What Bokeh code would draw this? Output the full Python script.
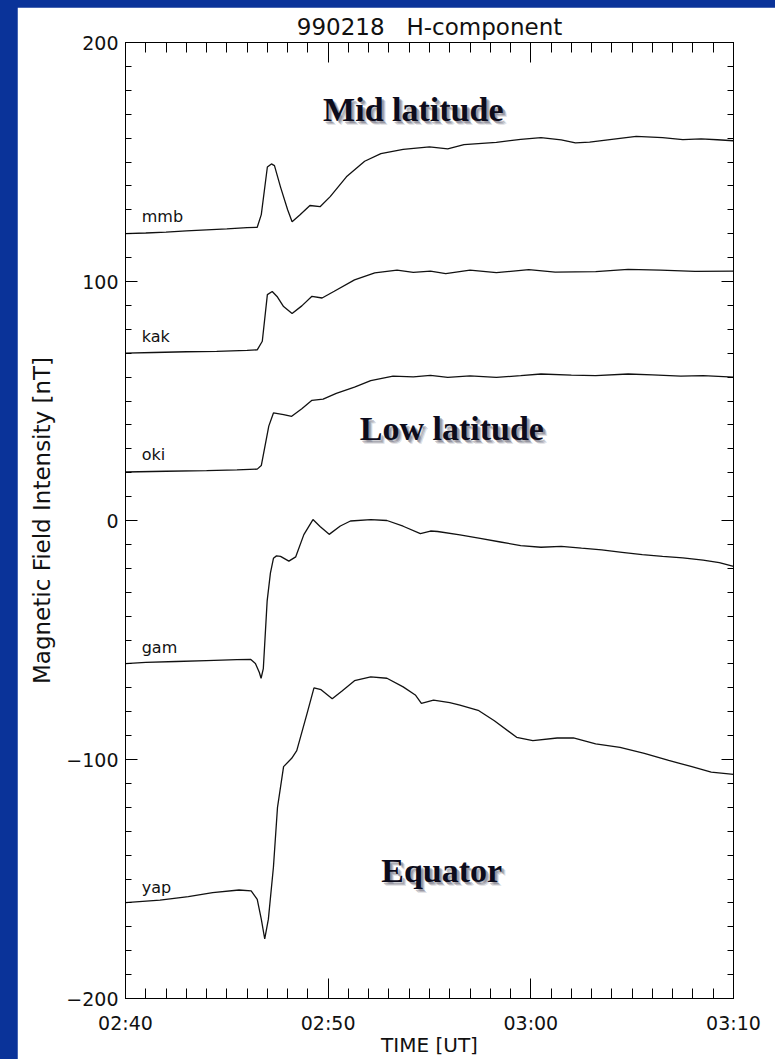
from bokeh.plotting import figure
from bokeh.models import Range1d, LinearAxis, FixedTicker, Title
from bokeh.core.properties import value
from bokeh.embed import file_html
from bokeh.resources import INLINE

# Time axis: minutes after 02:40 UT
x_tick_values = [0, 10, 20, 30]
x_tick_labels = ["02:40", "02:50", "03:00", "03:10"]
y_tick_values = [-200, -100, 0, 100, 200]
y_tick_labels = ["\u2212200", "\u2212100", "0", "100", "200"]

# H-component records (nT, offset per station), 1999-02-18
mmb_t = [0, 1, 2, 3, 4, 5, 6, 6.5, 6.7, 7.0, 7.2, 7.35, 7.65, 8.0, 8.22, 8.6, 9.1, 9.6,
         10.1, 10.9, 11.8, 12.6, 13.7, 15.0, 15.9, 16.7, 18.3, 19.5, 20.5, 21.5, 22.2,
         22.9, 24.0, 25.2, 26.5, 27.5, 28.4, 29.2, 30]
mmb_v = [120.0, 120.3, 120.7, 121.2, 121.6, 122.0, 122.5, 122.7, 128.0, 147.9, 149.2, 148.5,
         139.5, 130.0, 125.0, 127.8, 131.8, 131.3, 135.5, 143.8, 150.3, 153.5, 155.3, 156.3,
         155.5, 157.3, 158.2, 159.5, 160.2, 159.3, 158.0, 158.3, 159.5, 160.7, 160.2, 159.4,
         159.7, 159.3, 158.9]

kak_t = [0, 1.4, 3, 4.5, 6, 6.5, 6.75, 7.0, 7.24, 7.5, 7.8, 8.22, 8.7, 9.2, 9.7, 10.3, 11.3,
         12.3, 13.4, 14.2, 15.05, 15.8, 17.0, 18.3, 19.9, 21.2, 23.2, 24.8, 26.4, 28.1, 30]
kak_v = [70.0, 70.3, 70.6, 70.8, 71.2, 71.4, 75.0, 94.5, 95.8, 93.5, 89.5, 86.6, 89.8, 93.8,
         93.1, 95.9, 100.7, 103.6, 104.8, 103.8, 104.3, 103.3, 104.8, 103.7, 105.0, 103.9,
         104.1, 105.1, 104.8, 104.2, 104.3]

oki_t = [0, 2, 4, 5.5, 6.5, 6.7, 7.07, 7.3, 7.8, 8.2, 8.7, 9.2, 9.75, 10.4, 11.3, 12.1, 13.2,
         14.2, 15.05, 15.9, 17.0, 18.3, 19.5, 20.5, 22.0, 23.2, 24.8, 26.0, 27.4, 28.5, 30]
oki_v = [20.3, 20.6, 20.9, 21.2, 21.5, 23.0, 39.5, 45.0, 44.3, 43.6, 46.8, 50.3, 50.8, 53.2,
         55.8, 58.5, 60.4, 60.1, 60.7, 59.9, 60.5, 59.9, 60.6, 61.3, 60.8, 60.6, 61.3, 60.9,
         60.4, 60.6, 60.0]

gam_t = [0, 1, 2.5, 4, 5.5, 6.17, 6.41, 6.6, 6.69, 6.8, 6.99, 7.15, 7.3, 7.45, 7.65, 8.06,
         8.4, 8.8, 9.25, 9.6, 10.05, 10.6, 11.1, 12.1, 12.9, 13.7, 14.55, 15.05, 15.4, 16.5,
         17.5, 18.5, 19.5, 20.5, 21.5, 22.5, 23.5, 24.5, 25.5, 26.5, 27.5, 28.5, 29.3, 30]
gam_v = [-59.9, -59.4, -59.0, -58.6, -58.2, -58.1, -59.8, -63.5, -66.0, -62.0, -33.6, -22.0,
         -15.8, -14.8, -15.0, -17.0, -15.2, -5.9, 0.4, -2.5, -5.8, -2.3, -0.2, 0.4, 0.0, -2.4,
         -5.5, -4.4, -4.6, -6.0, -7.5, -9.0, -10.5, -11.2, -10.8, -11.6, -12.3, -13.3, -14.3,
         -15.0, -15.6, -16.6, -17.6, -19.2]

yap_t = [0, 1.7, 3.1, 4.3, 5.6, 6.2, 6.5, 6.7, 6.87, 7.05, 7.3, 7.5, 7.8, 8.2, 8.45, 8.95, 9.3,
         9.65, 10.2, 10.7, 11.3, 12.1, 12.9, 13.7, 14.3, 14.6, 15.2, 16.0, 16.5, 17.4, 18.2,
         19.3, 20.1, 21.3, 22.1, 23.2, 24.4, 25.6, 26.8, 27.9, 28.9, 30]
yap_v = [-159.9, -158.8, -157.4, -155.7, -154.6, -155.0, -158.5, -166.8, -175.1, -166.8,
         -145.0, -120.0, -103.0, -99.5, -96.3, -81.0, -70.0, -70.8, -74.6, -71.2, -67.0,
         -65.4, -66.0, -69.6, -73.0, -76.5, -75.2, -76.2, -77.2, -79.4, -83.8, -90.7, -92.1,
         -91.0, -91.0, -93.5, -94.9, -97.4, -100.4, -102.9, -105.3, -106.2]

stations = ["mmb", "kak", "oki", "gam", "yap"]
station_t = [mmb_t, kak_t, oki_t, gam_t, yap_t]
station_v = [mmb_v, kak_v, oki_v, gam_v, yap_v]
station_label_t = [0.8, 0.8, 0.8, 0.8, 0.8]
station_label_v = [127.0, 77.0, 27.5, -53.3, -153.7]

region_names = ["Mid latitude", "Low latitude", "Equator"]
region_t = [14.2, 16.1, 15.6]
region_v = [172.0, 38.5, -146.5]

SANS = "DejaVu Sans"
SERIF = "Liberation Serif"

p = figure(width=758, height=1052, x_range=Range1d(0, 30), y_range=Range1d(-200, 200),
           output_backend="svg", toolbar_location=None)
p.min_border_left = 108
p.min_border_right = 42
p.min_border_top = 35
p.min_border_bottom = 56
p.background_fill_color = "white"
p.border_fill_color = "white"
p.outline_line_color = "black"
p.outline_line_width = 1
p.grid.visible = False

# non-breaking spaces keep the wide gap of the heading
p.title = Title(text="990218\u00a0\u00a0\u00a0H-component", align="center", text_font=SANS,
                text_font_size="23px", text_font_style="normal", text_color="#111111",
                standoff=5)

xt = FixedTicker(ticks=x_tick_values, minor_ticks=list(range(0, 31)))
yt = FixedTicker(ticks=y_tick_values, minor_ticks=list(range(-200, 201, 10)))


def style_axis(ax, major_len, minor_len):
    ax.major_tick_in = major_len
    ax.major_tick_out = 0
    ax.minor_tick_in = minor_len
    ax.minor_tick_out = 0
    ax.axis_line_color = "black"
    ax.major_tick_line_color = "black"
    ax.minor_tick_line_color = "black"
    ax.major_label_text_font = SANS
    ax.major_label_text_color = "#111111"
    ax.axis_label_text_font = SANS
    ax.axis_label_text_font_style = "normal"
    ax.axis_label_text_color = "#111111"


xa = p.xaxis[0]
xa.ticker = xt
xa.major_label_overrides = dict(zip(x_tick_values, x_tick_labels))
style_axis(xa, 20, 10)
xa.major_label_text_font_size = "19px"
xa.major_label_standoff = 13
xa.axis_label = "TIME [UT]"
xa.axis_label_text_font_size = "20px"
xa.axis_label_standoff = -4

ya = p.yaxis[0]
ya.ticker = yt
ya.major_label_overrides = dict(zip(y_tick_values, y_tick_labels))
style_axis(ya, 12, 6)
ya.major_label_text_font_size = "19px"
ya.major_label_standoff = 7
ya.major_label_orientation = "horizontal"
ya.axis_label = "Magnetic Field Intensity [nT]"
ya.axis_label_text_font_size = "23px"
ya.axis_label_standoff = 8

# tick-only frame axes on the top and right sides
top = LinearAxis(ticker=xt, major_label_overrides={v: "" for v in x_tick_values},
                 major_label_standoff=0)
style_axis(top, 20, 10)
top.major_label_text_font_size = "1px"
p.add_layout(top, "above")
right = LinearAxis(ticker=yt, major_label_overrides={v: "" for v in y_tick_values},
                   major_label_standoff=0)
style_axis(right, 12, 6)
right.major_label_text_font_size = "1px"
p.add_layout(right, "right")

for name, ts, vs in zip(stations, station_t, station_v):
    p.line(ts, vs, line_color="#111111", line_width=1.3)

p.text(station_label_t, station_label_v, text=stations, text_font=value(SANS),
       text_font_size="16px", text_color="#111111", text_baseline="middle",
       text_align="left")

# soft drop shadow under the region captions
for off, a in [(4, 0.18), (3, 0.3), (2, 0.35)]:
    p.text(region_t, region_v, text=region_names, text_font=value(SERIF),
           text_font_style="bold", text_font_size="34px", text_color="#555566",
           text_alpha=a, text_align="center", text_baseline="middle",
           x_offset=off, y_offset=off)
p.text(region_t, region_v, text=region_names, text_font=value(SERIF),
       text_font_style="bold", text_font_size="34px", text_color="#0c0c1c",
       text_align="center", text_baseline="middle")

html = file_html(p, INLINE, title="990218 H-component")
html = html.replace("</head>",
                    "<style>html,body{margin:0;padding:0;background:#0a3399;}"
                    "body{padding:7px 0 0 17px;}</style></head>", 1)
open("out.html", "w").write(html)
